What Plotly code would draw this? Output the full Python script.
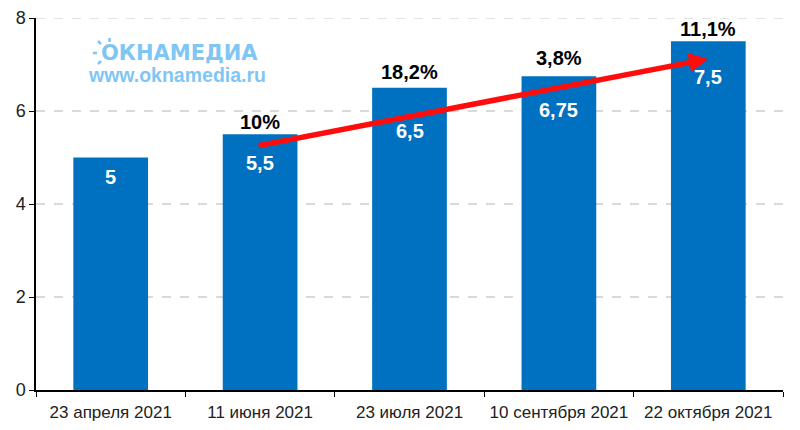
import plotly.graph_objects as go

dates = ['23 апреля 2021', '11 июня 2021', '23 июля 2021', '10 сентября 2021', '22 октября 2021']
values = [5, 5.5, 6.5, 6.75, 7.5]
value_labels = ['5', '5,5', '6,5', '6,75', '7,5']
growth_labels = ['', '10%', '18,2%', '3,8%', '11,1%']
y_ticks = [0, 2, 4, 6, 8]

# arrow ends, in chart values
arrow_start = (0.98, 5.25)
arrow_end = (4, 7.12)

# how far the labels sit below and above the bar tops, pixels
label_drop = [19, 29, 43, 34, 36]
label_rise = [0, 12, 16, 18, 12]

FONT = 'Liberation Sans, Arial, sans-serif'
LOGO_BLUE = '#7fc6f5'
GRID = '#d9d9d9'
# the page puts 8px of body margin around the figure
PAGE = 8
W, H = 800 - PAGE, 430 - PAGE
LEFT, RIGHT, TOP, BOTTOM = 36, 783, 18, 390


def px(x):
    return (x - LEFT) / (RIGHT - LEFT)


def py(y):
    return (BOTTOM - y) / (BOTTOM - TOP)


fig = go.Figure(
    data=[go.Bar(
        x=dates,
        y=values,
        width=0.5,
        marker=dict(color='#0070c0', line=dict(width=0)),
        hoverinfo='skip',
    )]
)

annotations = []
for i, date in enumerate(dates):
    annotations.append(dict(
        x=date, y=values[i], text='<b>%s</b>' % value_labels[i], showarrow=False,
        yanchor='middle', yshift=-label_drop[i],
        font=dict(family=FONT, size=20, color='white'),
    ))
    if growth_labels[i]:
        annotations.append(dict(
            x=date, y=values[i], text='<b>%s</b>' % growth_labels[i], showarrow=False,
            yanchor='middle', yshift=label_rise[i],
            font=dict(family=FONT, size=20, color='black'),
        ))

# red arrow from the second bar to the last one
annotations.append(dict(
    x=arrow_end[0], y=arrow_end[1], ax=arrow_start[0], ay=arrow_start[1],
    xref='x', yref='y', axref='x', ayref='y', text='',
    showarrow=True, arrowhead=2, arrowsize=0.7, arrowwidth=5.5, arrowcolor='#ff0d0d',
))

# logo text
annotations.append(dict(
    x=px(99), y=py(53), xref='paper', yref='paper', text='<b>ОКНАМЕДИА</b>', showarrow=False,
    xanchor='left', yanchor='middle',
    font=dict(family='DejaVu Sans', size=21, color=LOGO_BLUE),
))
annotations.append(dict(
    x=px(86), y=py(75), xref='paper', yref='paper', text='<b>www.oknamedia.ru</b>', showarrow=False,
    xanchor='left', yanchor='middle',
    font=dict(family=FONT, size=19.5, color=LOGO_BLUE),
))

# rays of the logo sun, the letter O is its disc
shapes = []
for x0, y0, x1, y1 in [(109.5, 38, 109.5, 42), (97, 53, 93, 53), (101, 44, 98, 41), (101, 61, 98, 64)]:
    shapes.append(dict(
        type='line', xref='paper', yref='paper',
        x0=px(x0), y0=py(y0), x1=px(x1), y1=py(y1),
        line=dict(color=LOGO_BLUE, width=2.5),
    ))

# plotly leaves out the gridline on the top edge
shapes.append(dict(
    type='line', xref='paper', yref='y', x0=0, x1=1, y0=y_ticks[-1], y1=y_ticks[-1],
    line=dict(color=GRID, width=1.5, dash='dash'),
))

fig.update_layout(
    width=W,
    height=H,
    margin=dict(l=LEFT - PAGE, r=800 - RIGHT, t=TOP - PAGE, b=430 - BOTTOM, autoexpand=False),
    paper_bgcolor='white',
    plot_bgcolor='white',
    showlegend=False,
    annotations=annotations,
    shapes=shapes,
    font=dict(family=FONT, color='#222222'),
)
fig.update_xaxes(
    type='category', range=[-0.5, 4.5], tickson='boundaries', ticks='outside', ticklen=5,
    tickcolor='black', showline=True, linecolor='black', linewidth=1.5,
    showgrid=False, tickfont=dict(family=FONT, size=17), ticklabelstandoff=6,
)
fig.update_yaxes(
    range=[0, 8], tickvals=y_ticks, ticks='outside', ticklen=5, tickcolor='black',
    showline=True, linecolor='black', linewidth=1.5,
    showgrid=True, gridcolor=GRID, griddash='dash', gridwidth=1.5,
    zeroline=False, tickfont=dict(family=FONT, size=18),
)

fig.write_html("out.html")
